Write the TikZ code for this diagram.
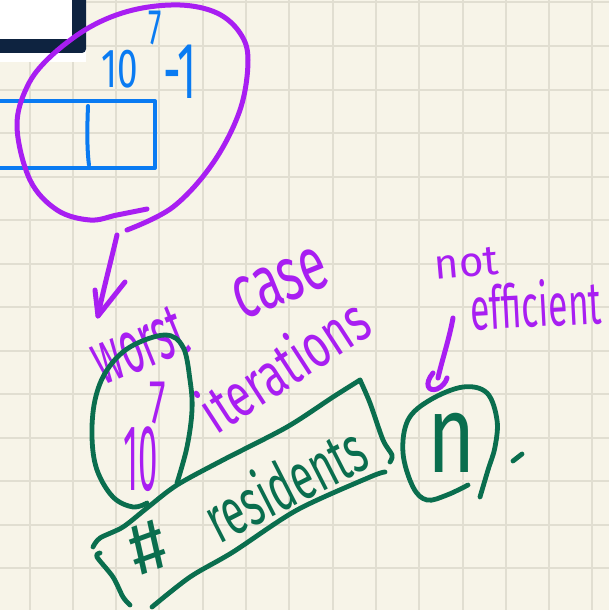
\documentclass[tikz,border=0pt]{standalone}
\usepackage{fontspec}
\setmainfont{Fira Sans}
\usepackage{graphicx}
\definecolor{paper}{HTML}{F7F4E8}
\definecolor{gridline}{HTML}{E1DED1}
\definecolor{navy}{HTML}{0E2340}
\definecolor{inkblue}{HTML}{0A7BF2}
\definecolor{inkpurple}{HTML}{A81EF2}
\definecolor{inkgreen}{HTML}{0A6E4E}
% handwritten word: horizontal squeeze, font size, text
\newcommand{\hw}[3]{\scalebox{#1}[1]{\fontsize{#2}{#2}\selectfont #3}}
\begin{document}
\begin{tikzpicture}[x=1pt,y=-1pt,
  pen/.style={line width=4.5pt, line cap=round, line join=round},
  bluepen/.style={pen, draw=inkblue, line width=4pt},
  purplepen/.style={pen, draw=inkpurple, line width=5pt},
  greenpen/.style={pen, draw=inkgreen, line width=4.8pt},
  word/.style={inner sep=0pt, anchor=base},
  blueword/.style={word, text=inkblue},
  purpleword/.style={word, text=inkpurple},
  greenword/.style={word, text=inkgreen}]
\useasboundingbox (0,0) rectangle (609,610);

% squared paper
\fill[paper] (0,0) rectangle (609,610);
\foreach \i in {0,...,13}{
  \draw[gridline, line width=2pt] ({29.5+43.3*\i},0) -- ++(0,610);
  \draw[gridline, line width=2pt] (0,{2.5+43.5*\i}) -- ++(609,0);
}

% window corner
\fill[white] (0,0) rectangle (86,62);
\fill[navy, rounded corners=4pt] (-10,-10) rectangle (86,53);
\fill[white] (-10,-10) rectangle (72,39);

% blue array cells
\draw[bluepen] (-6,101) rectangle (155,168);
\draw[bluepen] (88,106) .. controls (87,130) and (87,150) .. (89,165);
\node[blueword] (bten) at (120,88) {\hw{0.67}{55}{10}};
\node[blueword] (bseven) at (155,45) {\hw{0.6}{50}{7}};
\node[blueword] (bminus) at (180,98) {\hw{0.55}{80}{-1}};

% purple loop round the cells
\draw[purplepen] plot[smooth, tension=0.6] coordinates {(147,209) (117,215) (90,220) (57,210) (30,180) (17,127) (27,87) (50,57) (90,27) (133,10) (180,5) (217,13) (240,33) (248,60) (240,110) (213,163) (173,207) (127,230)};

% arrow down to the worst case
\coordinate (aonestart) at (117,235);
\coordinate (aoneend) at (98,316);
\draw[purplepen] (aonestart) .. controls (110,265) and (102,295) .. (aoneend);
\draw[purplepen] (95,290) -- (aoneend) -- (125,282);

% purple notes
\node[purpleword, rotate=22] (worst) at (148,368) {\hw{0.5}{76}{worst}};
\node[purpleword, rotate=22] (case) at (288,302) {\hw{0.64}{76}{case}};
\node[purpleword, rotate=33] (iter) at (296,384) {\hw{0.7}{62}{iterations}};
\node[purpleword] (pten) at (141,490) {\hw{0.37}{94}{10}};
\node[purpleword] (pseven) at (158,423) {\hw{0.6}{62}{7}};
\node[purpleword, rotate=5] (not) at (468,277) {\hw{1}{42}{not}};
\node[purpleword, rotate=3] (effic) at (537,327) {\hw{0.59}{60}{efficient}};

% arrow from the note to the circled n
\coordinate (atwostart) at (453,318);
\coordinate (atwoend) at (438,378);
\draw[purplepen] (atwostart) .. controls (449,340) and (442,360) .. (atwoend);
\draw[purplepen] (433,373) .. controls (424,384) and (428,392) .. (437,389) .. controls (442,387) and (446,382) .. (447,378);

% green loop round 10^7
\draw[greenpen] plot[smooth, tension=0.6] coordinates {(147,503) (133,507) (113,497) (97,470) (92,437) (95,400) (107,370) (130,347) (165,335) (183,347) (190,380) (192,410) (187,447) (177,483)};

% green box round "# residents"
\draw[greenpen] plot[smooth, tension=0.5] coordinates {(93,547) (100,538) (123,527) (147,508) (177,485) (223,460) (287,427) (333,397) (360,380)};
\draw[greenpen] plot[smooth, tension=0.5] coordinates {(360,380) (370,403) (383,440) (392,455) (390,462)};
\draw[greenpen] plot[smooth, tension=0.5] coordinates {(385,472) (370,477) (297,510) (233,552) (190,577) (152,607)};
\draw[greenpen] plot[smooth, tension=0.5] coordinates {(100,553) (97,557) (113,577) (123,597) (130,605)};
\node[greenword, rotate=20] (hash) at (156,570) {\hw{1}{72}{\#}};
\node[greenword, rotate=27] (resid) at (296,505) {\hw{0.62}{66}{residents}};

% circled n
\draw[greenpen] plot[smooth, tension=0.6] coordinates {(468,485) (447,495) (427,500) (413,487) (403,453) (408,420) (430,400) (463,387) (487,393) (497,420) (495,447) (488,470) (480,497)};
\node[greenword] (n) at (452,472) {\hw{0.75}{110}{n}};
\draw[greenpen] (513,461) -- (522,454);
\end{tikzpicture}
\end{document}
